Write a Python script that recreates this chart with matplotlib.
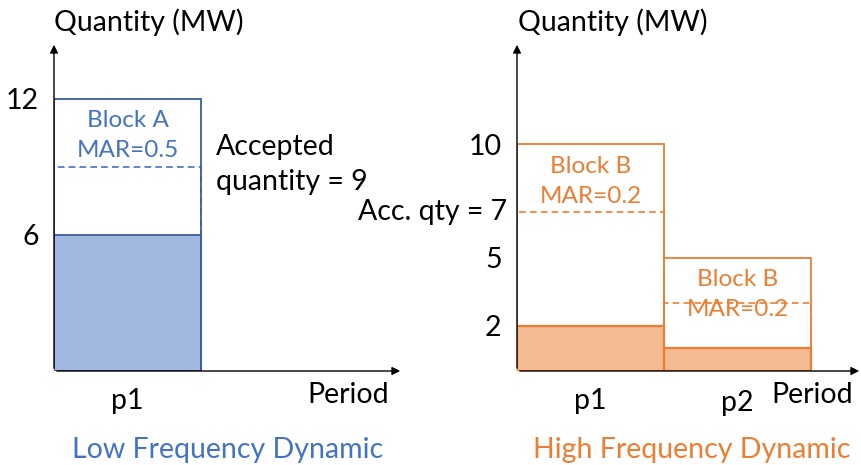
import matplotlib
matplotlib.use("Agg")
import matplotlib.pyplot as plt

plt.rcParams["font.family"] = ["Lato", "DejaVu Sans"]

W, H = 862, 465
BLUE = "#4472C4"
BLUE_DARK = "#3A5E9E"
BLUE_FILL = "#A2B8E0"
ORANGE = "#ED7D31"
ORANGE_FILL = "#F4BA92"
FS = 20.5       # main text size
FS_BLOCK = 17.5  # block label size

# Low frequency dynamic (Block A)
low_periods = ["p1"]
low_offered = [12]
low_accepted = [9]
low_cleared = [6]
low_ticks = [6, 12]
low_mar = ["0.5"]

# High frequency dynamic (Block B)
high_periods = ["p1", "p2"]
high_offered = [10, 5]
high_accepted = [7, 3]
high_cleared = [2, 1]
high_ticks = [2, 5, 10]
high_mar = ["0.2", "0.2"]

YMAX = 14.5
PX_PER_PERIOD = 147


def make_axes(fig, x0, x1, y_top=42, y_axis=371):
    ax = fig.add_axes([x0 / W, (H - y_axis) / H, (x1 - x0) / W, (y_axis - y_top) / H])
    ax.set_xlim(0, (x1 - x0) / PX_PER_PERIOD)
    ax.set_ylim(0, YMAX)
    for s in ax.spines.values():
        s.set_visible(False)
    ax.patch.set_alpha(0)
    arrow = dict(arrowstyle="-|>", color="black", lw=1.0, mutation_scale=12)
    ax.annotate("", xy=(0, YMAX), xytext=(0, 0), arrowprops=arrow, annotation_clip=False)
    ax.annotate("", xy=(ax.get_xlim()[1], 0), xytext=(0, 0), arrowprops=arrow,
                annotation_clip=False)
    ax.tick_params(length=0, labelsize=FS, pad=11)
    return ax


fig = plt.figure(figsize=(W / 100, H / 100), dpi=100)

# ---------------------------------------------------------------------------
# Left panel
# ---------------------------------------------------------------------------
ax = make_axes(fig, 54, 403)
x = range(len(low_periods))
ax.bar(x, low_cleared, width=1, align="edge", color=BLUE_FILL,
       edgecolor=BLUE_DARK, lw=1.3)
ax.bar(x, low_accepted, width=1, align="edge", fill=False,
       edgecolor=BLUE, lw=1.2, ls=(0, (4, 2.5)))
ax.bar(x, low_offered, width=1, align="edge", fill=False,
       edgecolor=BLUE_DARK, lw=1.3)
for i, (q, m) in enumerate(zip(low_offered, low_mar)):
    ax.text(i + 0.5, q - 0.97, "Block A", ha="center", va="center", color=BLUE, fontsize=FS_BLOCK)
    ax.text(i + 0.5, q - 2.3, f"MAR={m}", ha="center", va="center", color=BLUE, fontsize=FS_BLOCK)
ax.set_yticks(low_ticks)
ax.set_xticks([i + 0.5 for i in x])
ax.set_xticklabels(low_periods)
ax.tick_params(axis="x", pad=12)
ax.text(1.10, 9.88, "Accepted", ha="left", va="center", fontsize=FS)
ax.text(1.10, 8.34, f"quantity = {low_accepted[0]}", ha="left", va="center", fontsize=FS)
ax.text(2.0, -1.06, "Period", ha="center", va="center", fontsize=FS)

# ---------------------------------------------------------------------------
# Right panel
# ---------------------------------------------------------------------------
ax = make_axes(fig, 517, 862)
x = range(len(high_periods))
ax.bar(x, high_cleared, width=1, align="edge", color=ORANGE_FILL,
       edgecolor=ORANGE, lw=1.6)
ax.bar(x, high_accepted, width=1, align="edge", fill=False,
       edgecolor=ORANGE, lw=1.2, ls=(0, (4, 2.5)))
ax.bar(x, high_offered, width=1, align="edge", fill=False,
       edgecolor=ORANGE, lw=1.3)
for i, (q, m) in enumerate(zip(high_offered, high_mar)):
    ax.text(i + 0.5, q - 0.97, "Block B", ha="center", va="center", color=ORANGE, fontsize=FS_BLOCK)
    ax.text(i + 0.5, q - 2.3, f"MAR={m}", ha="center", va="center", color=ORANGE, fontsize=FS_BLOCK)
ax.set_yticks(high_ticks)
ax.set_xticks([i + 0.5 for i in x])
ax.set_xticklabels(high_periods)
ax.tick_params(axis="x", pad=12)
ax.get_xticklabels()[1].set_y(-0.008)
ax.text(-0.07, high_accepted[0], f"Acc. qty = {high_accepted[0]}", ha="right",
        va="center", fontsize=FS)
ax.text(2.007, -1.06, "Period", ha="center", va="center", fontsize=FS)

# ---------------------------------------------------------------------------
# Headings
# ---------------------------------------------------------------------------
fig.text(54 / W, 1 - 22 / H, "Quantity (MW)", ha="left", va="center", fontsize=FS)
fig.text(518 / W, 1 - 22 / H, "Quantity (MW)", ha="left", va="center", fontsize=FS)
fig.text(228 / W, 1 - 450 / H, "Low Frequency Dynamic", ha="center", va="center",
         color=BLUE, fontsize=FS)
fig.text(692 / W, 1 - 450 / H, "High Frequency Dynamic", ha="center", va="center",
         color=ORANGE, fontsize=FS)

fig.savefig("out.png", dpi=100)
